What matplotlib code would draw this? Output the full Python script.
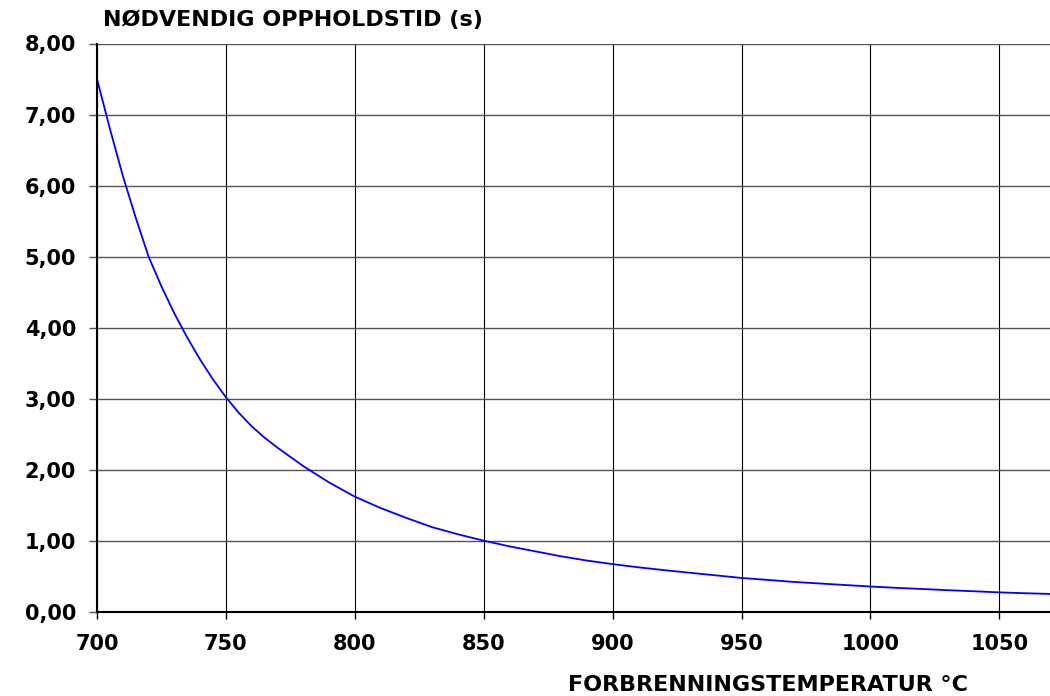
import matplotlib
matplotlib.use("Agg")
import matplotlib.pyplot as plt

# temperature (deg C) and required residence time (s)
temperature = [700, 705, 710, 715, 720, 725, 730, 735, 740, 745,
               750, 755, 760, 765, 770, 780, 790,
               800, 810, 820, 830, 840, 850, 860, 870, 880, 890,
               900, 910, 920, 930, 940, 950, 960, 970, 980, 990,
               1000, 1010, 1020, 1030, 1040, 1050, 1060, 1070]
residence_time = [7.50, 6.80, 6.14, 5.55, 5.00, 4.58, 4.20, 3.86, 3.55, 3.27,
                  3.02, 2.80, 2.61, 2.45, 2.31, 2.05, 1.82,
                  1.62, 1.46, 1.32, 1.19, 1.09, 1.00, 0.92, 0.85, 0.78, 0.72,
                  0.67, 0.625, 0.585, 0.548, 0.512, 0.475, 0.448, 0.42, 0.398, 0.376,
                  0.355, 0.336, 0.32, 0.303, 0.288, 0.272, 0.26, 0.25]

x_ticks = [700, 750, 800, 850, 900, 950, 1000, 1050]
y_ticks = [0, 1, 2, 3, 4, 5, 6, 7, 8]
y_tick_labels = ["0,00", "1,00", "2,00", "3,00", "4,00", "5,00", "6,00", "7,00", "8,00"]

title = "NØDVENDIG OPPHOLDSTID (s)"
x_label = "FORBRENNINGSTEMPERATUR °C"

plt.rcParams["font.family"] = ["DejaVu Sans"]
plt.rcParams["font.weight"] = "bold"

fig = plt.figure(figsize=(10.5, 6.96), dpi=100)
ax = fig.add_axes([97 / 1050, 1 - 611.7 / 696, 1 - 97 / 1050, (611.7 - 43.5) / 696])

ax.plot(temperature, residence_time, color="#0000ff", lw=1.3, zorder=3)

ax.set_xlim(700, 700 + (1050 - 97) / 128.9 * 50)
ax.set_ylim(0, 8)
ax.set_xticks(x_ticks)
ax.set_yticks(y_ticks)
ax.set_yticklabels(y_tick_labels)

ax.grid(axis="x", color="black", lw=0.8)
ax.grid(axis="y", color="#555555", lw=1.0)
ax.set_axisbelow(True)

for s in ["top", "right"]:
    ax.spines[s].set_visible(False)
for s in ["left", "bottom"]:
    ax.spines[s].set_linewidth(1.5)
    ax.spines[s].set_zorder(4)

ax.tick_params(axis="x", length=5, width=1, pad=11, labelsize=15)
ax.tick_params(axis="y", length=6, width=1, pad=9, labelsize=15, color="#555555")

fig.text(103 / 1050, 1 - 10 / 696, title, ha="left", va="top",
         fontsize=16, fontweight="bold")
fig.text(968 / 1050, 1 - 691 / 696, x_label, ha="right", va="baseline",
         fontsize=16, fontweight="bold")

fig.savefig("out.png", dpi=100)
